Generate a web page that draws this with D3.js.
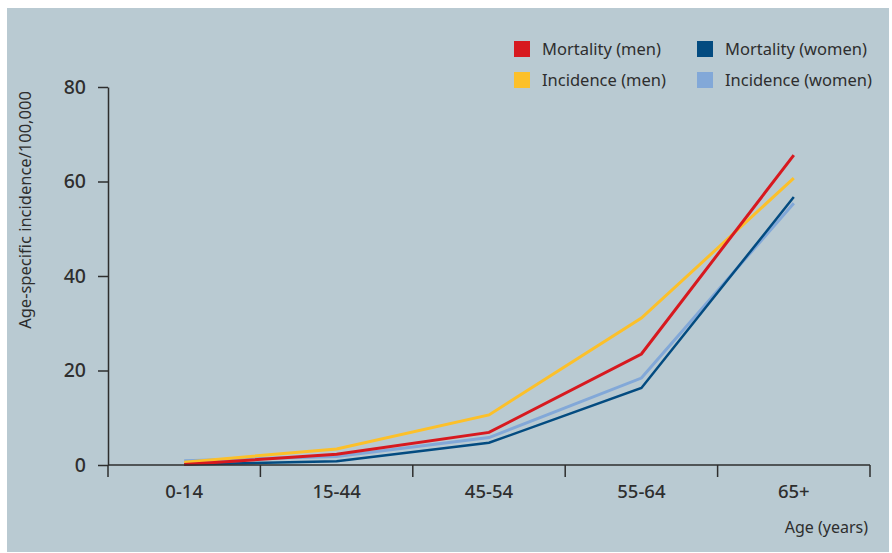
<!DOCTYPE html>
<html>
<head>
<meta charset="utf-8">
<script src="https://cdn.jsdelivr.net/npm/d3@7"></script>
<style>
  body { margin: 0; background: #fff; }
  text { font-family: "Noto Sans", "DejaVu Sans", sans-serif; }
</style>
</head>
<body>
<div id="chart"></div>
<script>
// age groups on the x axis
const ageGroups = ["0-14", "15-44", "45-54", "55-64", "65+"];

// values per 100,000
const mortalityMen = [0.1, 2.3, 6.9, 23.5, 65.6];
const mortalityWomen = [0.1, 0.8, 4.7, 16.3, 56.7];
const incidenceMen = [0.6, 3.4, 10.6, 31.1, 60.7];
const incidenceWomen = [0.9, 1.8, 5.8, 18.4, 55.4];

const yTicks = [0, 20, 40, 60, 80];

var w = 892;
var h = 553;
var ink = "#2e2e2e";

var svg = d3
  .select("#chart")
  .append("svg")
  .attr("width", w)
  .attr("height", h);

// grey-blue panel
svg
  .append("rect")
  .attr("x", 7)
  .attr("y", 8)
  .attr("width", 882)
  .attr("height", 544)
  .attr("fill", "#b9cad2");

var x = d3.scaleBand().domain(ageGroups).range([108, 870]);
var y = d3.scaleLinear().domain([0, 80]).range([465, 87]);

// series in drawing order (bottom first)
var series = [
  { name: "Incidence (women)", values: incidenceWomen, color: "#82a8d8", width: 3 },
  { name: "Incidence (men)", values: incidenceMen, color: "#fcc02a", width: 3 },
  { name: "Mortality (women)", values: mortalityWomen, color: "#034b80", width: 2.5 },
  { name: "Mortality (men)", values: mortalityMen, color: "#d7191f", width: 3 },
];

var line = d3
  .line()
  .x((d, i) => x(ageGroups[i]) + x.bandwidth() / 2)
  .y((d) => y(d));

svg
  .append("g")
  .selectAll("path")
  .data(series)
  .enter()
  .append("path")
  .attr("fill", "none")
  .attr("stroke", (d) => d.color)
  .attr("stroke-width", (d) => d.width)
  .attr("d", (d) => line(d.values));

// y axis
var yAxis = svg
  .append("g")
  .attr("transform", "translate(108,0)")
  .call(d3.axisLeft(y).tickValues(yTicks).tickSize(10).tickSizeOuter(0).tickPadding(12));
yAxis.selectAll("text").attr("font-size", 19.5);

// x axis: ticks sit on the band edges, labels in the middle
var edges = ageGroups.map((g) => x(g)).concat([x.range()[1]]);
var xAxis = svg.append("g");
xAxis
  .append("line")
  .attr("x1", 108)
  .attr("x2", 870)
  .attr("y1", y(0))
  .attr("y2", y(0));
xAxis
  .selectAll(".edge")
  .data(edges)
  .enter()
  .append("line")
  .attr("class", "edge")
  .attr("x1", (d) => d)
  .attr("x2", (d) => d)
  .attr("y1", y(0))
  .attr("y2", y(0) + 12);
xAxis
  .selectAll("text")
  .data(ageGroups)
  .enter()
  .append("text")
  .attr("x", (d) => x(d) + x.bandwidth() / 2)
  .attr("y", 498)
  .attr("text-anchor", "middle")
  .attr("font-size", 18.5)
  .text((d) => d);

svg.selectAll(".domain, line").attr("stroke", ink).attr("stroke-width", 1.5);
svg
  .selectAll("g text")
  .attr("fill", ink)
  .attr("font-weight", 500)
  .attr("font-family", "'Noto Sans', sans-serif");

// axis titles
svg
  .append("text")
  .attr("transform", "translate(31,210) rotate(-90)")
  .attr("text-anchor", "middle")
  .attr("font-size", 16.5)
  .attr("fill", ink)
  .text("Age-specific incidence/100,000");

svg
  .append("text")
  .attr("x", 868)
  .attr("y", 533)
  .attr("text-anchor", "end")
  .attr("font-size", 16)
  .attr("fill", ink)
  .text("Age (years)");

// legend
var legendItems = [
  { name: "Mortality (men)", color: "#d7191f", col: 0, row: 0 },
  { name: "Mortality (women)", color: "#034b80", col: 1, row: 0 },
  { name: "Incidence (men)", color: "#fcc02a", col: 0, row: 1 },
  { name: "Incidence (women)", color: "#82a8d8", col: 1, row: 1 },
];

var legend = svg
  .append("g")
  .selectAll("g")
  .data(legendItems)
  .enter()
  .append("g")
  .attr("transform", (d) => "translate(" + (514 + d.col * 183) + "," + (41 + d.row * 31) + ")");

legend
  .append("rect")
  .attr("width", 16)
  .attr("height", 16)
  .attr("fill", (d) => d.color);

legend
  .append("text")
  .attr("x", 28)
  .attr("y", 8)
  .attr("dy", "0.35em")
  .attr("font-size", 16.5)
  .attr("fill", ink)
  .text((d) => d.name);
</script>
</body>
</html>
